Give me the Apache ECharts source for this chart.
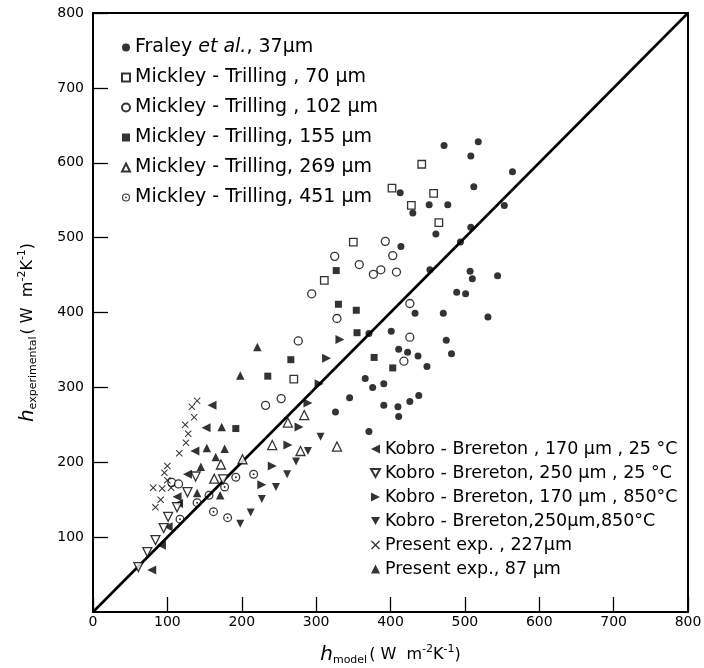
<!DOCTYPE html>
<html><head><meta charset="utf-8">
<script src="https://cdn.jsdelivr.net/npm/echarts@6/dist/echarts.min.js"></script>
<style>html,body{margin:0;padding:0;background:#fff}#c{width:704px;height:668px}</style>
</head><body><div id="c"></div>
<script>
// axis ticks
const axisMin = 0, axisMax = 800, axisStep = 100;

// series names (legend texts)
const names = [
  'Fraley et al., 37µm',
  'Mickley - Trilling , 70 µm',
  'Mickley - Trilling , 102 µm',
  'Mickley - Trilling, 155 µm',
  'Mickley - Trilling, 269 µm',
  'Mickley - Trilling, 451 µm',
  'Kobro - Brereton , 170 µm , 25 °C',
  'Kobro - Brereton, 250 µm , 25 °C',
  'Kobro - Brereton, 170 µm , 850°C',
  'Kobro - Brereton,250µm,850°C',
  'Present exp. , 227µm',
  'Present exp., 87 µm'
];

// [h_model, h_experimental]
const fraley = [
  [472,623],[518,628],[508,609],[564,588],[512,568],[413,560],[452,544],[477,544],
  [430,533],[553,543],[461,505],[508,514],[494,494],[414,488],[453,457],[507,455],
  [510,445],[544,449],[489,427],[501,425],[433,399],[471,399],[531,394],[371,372],
  [401,375],[475,363],[411,351],[423,347],[437,342],[482,345],[449,328],[366,312],
  [376,300],[391,305],[345,286],[391,276],[410,274],[426,281],[438,289],[411,261],
  [326,267],[371,241]
];
const mickley70 = [
  [350,494],[311,443],[270,311],[442,598],[402,566],[458,559],[428,543],[465,520]
];
const mickley102 = [
  [393,495],[403,476],[387,457],[408,454],[426,412],[325,475],[358,464],[377,451],
  [294,425],[328,392],[426,367],[418,335],[276,362],[232,276],[253,285],[106,173],[115,171]
];
const mickley155 = [
  [327,456],[330,411],[354,403],[355,373],[378,340],[403,326],[266,337],[235,315],[192,245]
];
const mickley269 = [
  [172,197],[163,178],[241,223],[201,204],[262,253],[279,215],[284,263],[328,221]
];
const mickley451 = [
  [192,180],[216,184],[177,167],[156,156],[140,146],[162,134],[181,126],[117,124]
];
const kobro170c = [
  [160,276],[152,246],[137,215],[127,184],[113,154],[115,145],[101,114],[92,89],[79,56]
];
const kobro250c = [
  [138,181],[175,177],[127,160],[113,140],[101,127],[95,112],[84,96],[73,80],[61,60]
];
const kobro170h = [
  [332,364],[314,339],[304,305],[289,279],[277,247],[262,223],[241,195],[227,170]
];
const kobro250h = [
  [306,234],[289,215],[273,201],[261,184],[246,167],[227,151],[212,133],[198,118]
];
const present227 = [
  [140,282],[133,274],[136,260],[124,250],[128,238],[125,226],[116,212],[100,195],
  [96,186],[100,176],[81,166],[93,165],[105,166],[91,150],[84,140]
];
const present87 = [
  [221,354],[198,316],[173,247],[153,219],[177,218],[165,207],[145,194],[171,156],[140,159]
];
const modelLine = [[0,0],[800,800]];

const P = {
  left: 'path://M0,5L10,0L10,10Z',
  right: 'path://M10,5L0,0L0,10Z',
  down: 'path://M0,0L10,0L5,9Z',
  cross: 'path://M0,1L1,0L5,4L9,0L10,1L6,5L10,9L9,10L5,6L1,10L0,9L4,5Z',
  dotc: 'path://M5,0A5,5 0 1,1 5,10A5,5 0 1,1 5,0ZM5,1.4A3.6,3.6 0 1,0 5,8.6A3.6,3.6 0 1,0 5,1.4ZM5,3.9A1.1,1.1 0 1,1 5,6.1A1.1,1.1 0 1,1 5,3.9Z'
};
const filled = {color:'#000', borderWidth:0};
const open = {color:'#fff', borderColor:'#000', borderWidth:1.3};

const specs = [
  [fraley, 'circle', 7, filled],
  [mickley70, 'rect', 7.5, open],
  [mickley102, 'circle', 8, open],
  [mickley155, 'rect', 7, filled],
  [mickley269, 'triangle', 9, open],
  [mickley451, P.dotc, 9, filled],
  [kobro170c, P.left, 9, filled],
  [kobro250c, P.down, 9, open],
  [kobro170h, P.right, 9, filled],
  [kobro250h, P.down, 8, filled],
  [present227, P.cross, 7, filled],
  [present87, 'triangle', 8.5, filled]
];

const series = [{
  type:'line', data:modelLine, symbol:'none', silent:true, z:1,
  lineStyle:{color:'#000', width:2.6}
}];
specs.forEach((s,i)=>{
  series.push({type:'scatter', name:names[i], data:s[0], symbol:s[1], symbolSize:s[2],
    itemStyle:s[3], z:2+i});
});

const rich = {
  it:{fontStyle:'italic', fontFamily:'DejaVu Sans', fontSize:19, lineHeight:16, color:'#000'}
};
const legFmt = n => n.startsWith('Fraley') ? 'Fraley {it|et al.}, 37µm' : n;

const nameRich = {
  h:{fontStyle:'italic', fontSize:20, fontFamily:'DejaVu Sans', color:'#000', lineHeight:22, verticalAlign:'middle'},
  sub:{fontSize:11, fontFamily:'DejaVu Sans', color:'#000', lineHeight:22, verticalAlign:'bottom', padding:[0,2,0,0]},
  p:{fontSize:16, fontFamily:'DejaVu Sans', color:'#000', lineHeight:22, verticalAlign:'middle'},
  sup:{fontSize:11, fontFamily:'DejaVu Sans', color:'#000', lineHeight:22, verticalAlign:'top'}
};

const chart = echarts.init(document.getElementById('c'), null, {renderer:'canvas'});
chart.setOption({
  animation:false,
  backgroundColor:'#fff',
  grid:{left:93, right:16, top:13, bottom:56, outerBoundsMode:'none', containLabel:false,
        show:true, borderColor:'#000', borderWidth:2},
  xAxis:{type:'value', min:axisMin, max:axisMax, interval:axisStep,
    name:'{h|h}{sub|model}{p|( W  m}{sup|-2}{p|K}{sup|-1}{p|)}',
    nameLocation:'middle', nameGap:32, nameTextStyle:{rich:nameRich},
    axisLine:{lineStyle:{color:'#000', width:2}},
    axisTick:{inside:true, length:15, lineStyle:{color:'#000', width:1.3}},
    axisLabel:{color:'#000', fontSize:14, fontFamily:'DejaVu Sans', margin:3},
    splitLine:{show:false}},
  yAxis:{type:'value', min:axisMin, max:axisMax, interval:axisStep,
    name:'{h|h}{sub|experimental}{p|( W  m}{sup|-2}{p|K}{sup|-1}{p|)}',
    nameLocation:'middle', nameGap:54, nameRotate:90,
    nameTextStyle:{rich:nameRich, padding:[0,40,0,0]},
    axisLine:{lineStyle:{color:'#000', width:2}},
    axisTick:{inside:true, length:15, lineStyle:{color:'#000', width:1.3}},
    axisLabel:{color:'#000', fontSize:14, fontFamily:'DejaVu Sans', margin:9, showMinLabel:false},
    splitLine:{show:false}},
  legend:[
    {data:names.slice(0,6), orient:'vertical', left:121, top:38, padding:0,
     itemWidth:8, itemHeight:8, itemGap:11, formatter:legFmt, selectedMode:false,
     textStyle:{fontFamily:'DejaVu Sans', fontSize:19, lineHeight:16, color:'#000', rich}},
    {data:names.slice(6), orient:'vertical', left:370, top:440, padding:0,
     itemWidth:9, itemHeight:9, itemGap:6, selectedMode:false,
     textStyle:{fontFamily:'DejaVu Sans', fontSize:17.5, lineHeight:16, color:'#000'}}
  ],
  series
});
</script></body></html>
